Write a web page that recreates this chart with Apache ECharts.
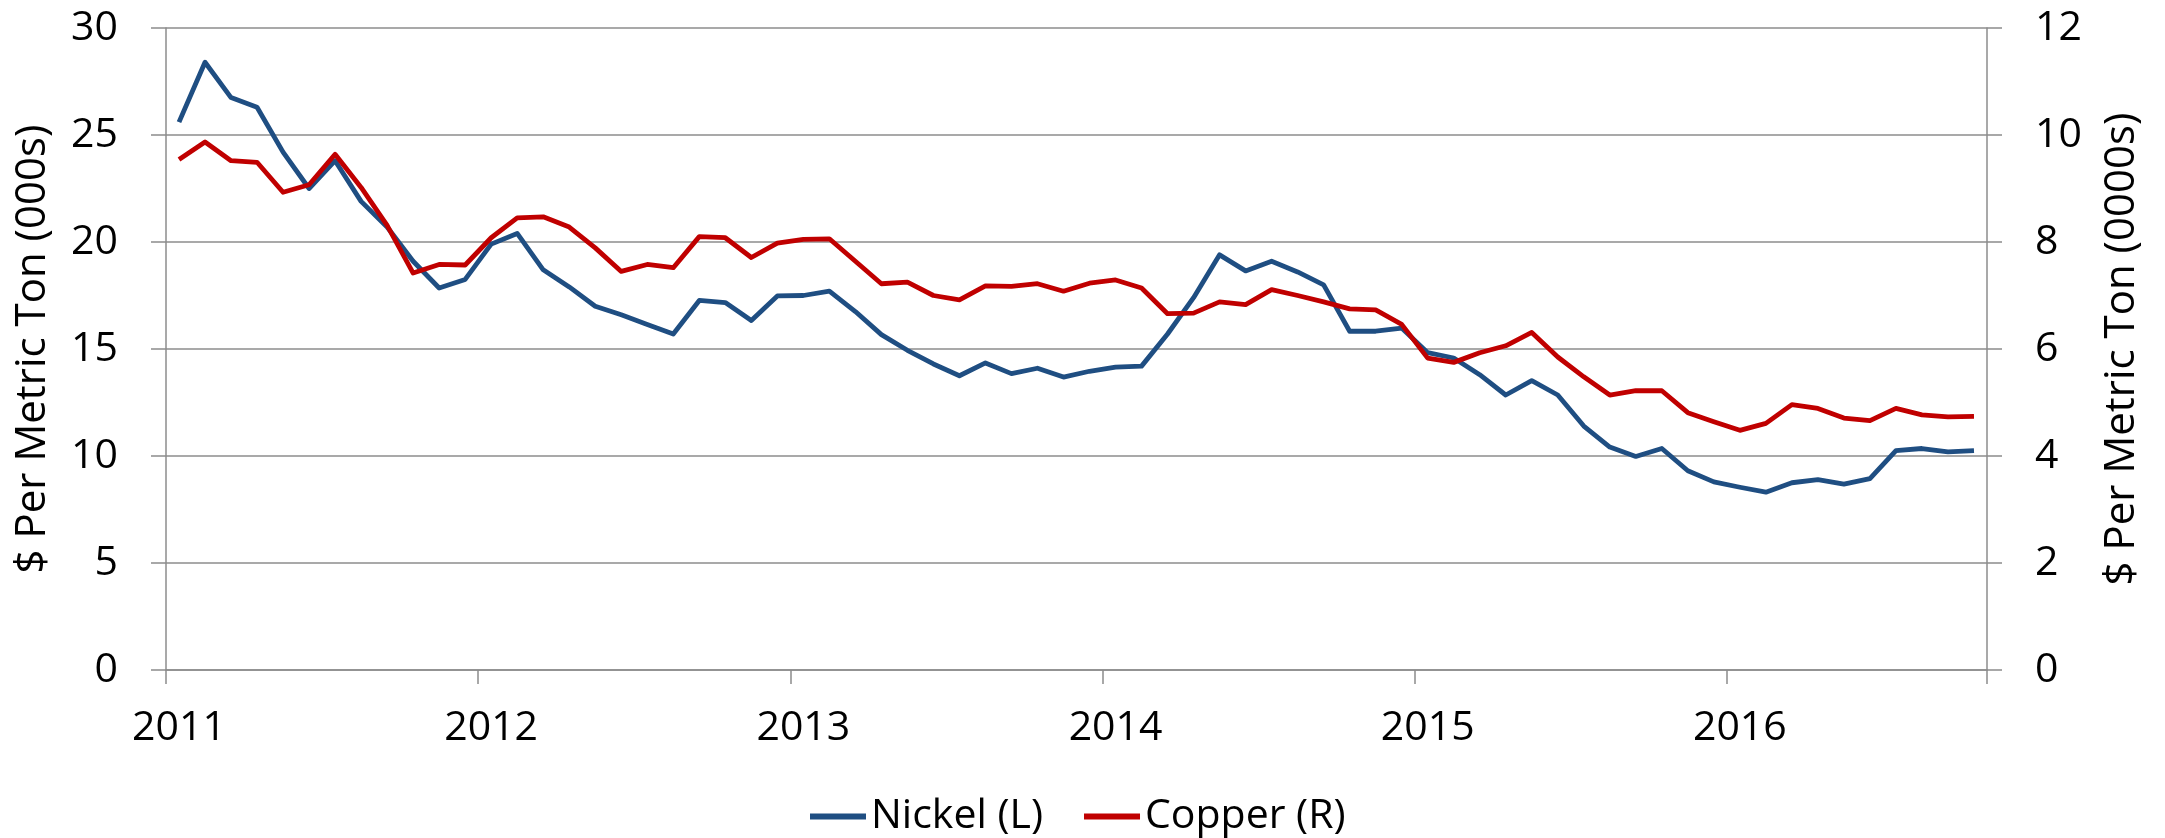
<!DOCTYPE html>
<html>
<head>
<meta charset="utf-8">
<script src="https://cdn.jsdelivr.net/npm/echarts@6/dist/echarts.min.js"></script>
<style>
html,body{margin:0;padding:0;background:#fff;}
#chart{width:2165px;height:838px;}
</style>
</head>
<body>
<div id="chart"></div>
<script>
// Monthly categories, Jan 2011 – Oct 2016
var months = [
  '2011-01','2011-02','2011-03','2011-04','2011-05','2011-06','2011-07','2011-08','2011-09','2011-10','2011-11','2011-12',
  '2012-01','2012-02','2012-03','2012-04','2012-05','2012-06','2012-07','2012-08','2012-09','2012-10','2012-11','2012-12',
  '2013-01','2013-02','2013-03','2013-04','2013-05','2013-06','2013-07','2013-08','2013-09','2013-10','2013-11','2013-12',
  '2014-01','2014-02','2014-03','2014-04','2014-05','2014-06','2014-07','2014-08','2014-09','2014-10','2014-11','2014-12',
  '2015-01','2015-02','2015-03','2015-04','2015-05','2015-06','2015-07','2015-08','2015-09','2015-10','2015-11','2015-12',
  '2016-01','2016-02','2016-03','2016-04','2016-05','2016-06','2016-07','2016-08','2016-09','2016-10'
];

// Nickel, $ per metric ton (000s), left axis
var nickel = [
  25.6, 28.4, 26.75, 26.3, 24.2, 22.5, 23.8, 21.9, 20.7, 19.1, 17.85, 18.25,
  19.9, 20.4, 18.7, 17.9, 17.0, 16.6, 16.15, 15.7, 17.27, 17.17, 16.33, 17.48,
  17.5, 17.7, 16.75, 15.67, 14.94, 14.3, 13.75, 14.35, 13.85, 14.1, 13.69, 13.96,
  14.15, 14.2, 15.7, 17.4, 19.4, 18.65, 19.1, 18.6, 18.0, 15.83, 15.83, 15.98,
  14.83, 14.58, 13.8, 12.85, 13.52, 12.85, 11.4, 10.42, 9.98, 10.35, 9.31, 8.79,
  8.54, 8.31, 8.75, 8.9, 8.69, 8.94, 10.25, 10.35, 10.19, 10.25
];

// Copper, $ per metric ton (000s), right axis
var copper = [
  9.54, 9.87, 9.52, 9.49, 8.93, 9.07, 9.64, 9.02, 8.31, 7.42, 7.58, 7.57,
  8.08, 8.45, 8.47, 8.28, 7.89, 7.45, 7.58, 7.52, 8.1, 8.08, 7.71, 7.98,
  8.05, 8.06, 7.64, 7.22, 7.25, 7.0, 6.92, 7.18, 7.17, 7.22, 7.08, 7.23,
  7.29, 7.14, 6.66, 6.67, 6.88, 6.83, 7.11, 7.0, 6.88, 6.75, 6.73, 6.46,
  5.83, 5.75, 5.93, 6.06, 6.31, 5.85, 5.48, 5.14, 5.22, 5.22, 4.81, 4.64,
  4.48, 4.61, 4.96, 4.89, 4.71, 4.66, 4.89, 4.77, 4.73, 4.74
];

var seriesNames = ['Nickel (L)', 'Copper (R)'];
var axisTitles = ['$ Per Metric Ton (000s)', '$ Per Metric Ton (0000s)'];

var FONT = 'Open Sans';
var FS = 41;
var TFS = 42;
var gridColor = '#8c8c8c';

var chart = echarts.init(document.getElementById('chart'), null, {renderer: 'canvas'});
chart.setOption({
  backgroundColor: '#ffffff',
  animation: false,
  textStyle: {fontFamily: FONT, color: '#000'},
  grid: {left: 166, right: 178, top: 28, bottom: 168, containLabel: false},
  legend: {
    data: seriesNames,
    left: 805,
    top: 791,
    icon: 'rect',
    itemWidth: 56,
    itemHeight: 6,
    itemGap: 41,
    textStyle: {fontFamily: FONT, fontSize: FS, color: '#000', padding: [0, 0, 0, 0]}
  },
  xAxis: {
    type: 'category',
    data: months,
    boundaryGap: true,
    axisLine: {show: true, lineStyle: {color: gridColor, width: 1.5}},
    axisTick: {show: true, interval: 11, length: 14, inside: false, lineStyle: {color: gridColor, width: 1.5}},
    axisLabel: {
      interval: 11,
      margin: 38,
      fontFamily: FONT,
      fontSize: FS,
      color: '#000',
      formatter: function (v) { return v.slice(0, 4); }
    },
    splitLine: {show: false}
  },
  yAxis: [
    {
      type: 'value',
      min: 0, max: 30, interval: 5,
      position: 'left',
      name: axisTitles[0],
      nameLocation: 'middle',
      nameRotate: 90,
      nameGap: 112,
      nameTextStyle: {fontFamily: FONT, fontSize: TFS, color: '#000'},
      axisLine: {show: true, lineStyle: {color: gridColor, width: 1.5}},
      axisTick: {show: true, length: 15, lineStyle: {color: gridColor, width: 1.5}},
      axisLabel: {margin: 48, fontFamily: FONT, fontSize: FS, color: '#000'},
      splitLine: {show: true, lineStyle: {color: gridColor, width: 1.5}}
    },
    {
      type: 'value',
      min: 0, max: 12, interval: 2,
      position: 'right',
      name: axisTitles[1],
      nameLocation: 'middle',
      nameRotate: 90,
      nameGap: 114,
      nameTextStyle: {fontFamily: FONT, fontSize: TFS, color: '#000'},
      axisLine: {show: true, lineStyle: {color: gridColor, width: 1.5}},
      axisTick: {show: true, length: 15, lineStyle: {color: gridColor, width: 1.5}},
      axisLabel: {margin: 48, fontFamily: FONT, fontSize: FS, color: '#000'},
      splitLine: {show: false}
    }
  ],
  series: [
    {
      name: seriesNames[0],
      type: 'line',
      yAxisIndex: 0,
      data: nickel,
      showSymbol: false,
      symbol: 'none',
      lineStyle: {color: '#1f4e82', width: 4.8, join: 'round'},
      itemStyle: {color: '#1f4e82'}
    },
    {
      name: seriesNames[1],
      type: 'line',
      yAxisIndex: 1,
      data: copper,
      showSymbol: false,
      symbol: 'none',
      lineStyle: {color: '#c00000', width: 4.8, join: 'round'},
      itemStyle: {color: '#c00000'}
    }
  ]
});
</script>
</body>
</html>
